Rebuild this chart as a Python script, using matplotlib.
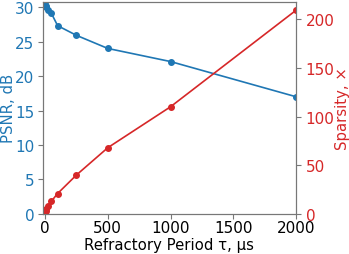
import matplotlib
matplotlib.use("Agg")
import matplotlib.pyplot as plt

tau = [0, 5, 10, 25, 50, 100, 250, 500, 1000, 2000]
psnr = [30.5, 30.2, 30.0, 29.6, 29.1, 27.3, 25.9, 24.0, 22.1, 17.0]
sparsity = [1, 3, 5, 8, 13, 21, 40, 68, 110, 209]

blue = "#1f77b4"
red = "#d62728"

fig, ax = plt.subplots(figsize=(3.49, 2.55), dpi=100)
fig.subplots_adjust(left=0.122, right=0.848, top=0.99, bottom=0.157)
ax.plot(tau, psnr, "o-", color=blue, ms=4, lw=1.2)
ax.set_xlim(-20, 2000)
ax.set_ylim(0, 30.8)
ax.set_xlabel("Refractory Period τ, μs", fontsize=10.7, labelpad=1)
ax.set_ylabel("PSNR, dB", color=blue, fontsize=10.7, labelpad=-0.5)
ax.tick_params(axis="y", colors=blue, labelsize=11, pad=2.5)
ax.tick_params(axis="x", labelsize=11, pad=1)
ax.set_xticks([0, 500, 1000, 1500, 2000])
ax.set_yticks([0, 5, 10, 15, 20, 25, 30])

ax2 = ax.twinx()
ax2.plot(tau, sparsity, "o-", color=red, ms=4, lw=1.2)
ax2.set_ylim(0, 218)
ax2.set_ylabel("Sparsity, ×", color=red, fontsize=10.7, labelpad=0)
ax2.tick_params(axis="y", colors=red, labelsize=11)
ax2.set_yticks([0, 50, 100, 150, 200])

for a in (ax, ax2):
    for s in a.spines.values():
        s.set_color("#777777")
ax.tick_params(axis="both", color="#777777")
ax2.tick_params(axis="y", color="#777777")

fig.savefig("out.png", dpi=100)
